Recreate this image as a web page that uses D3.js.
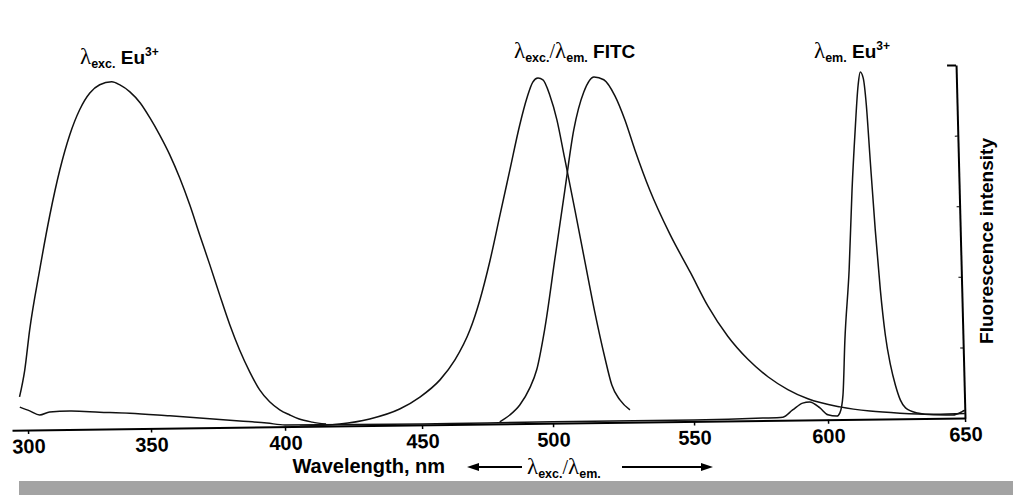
<!DOCTYPE html>
<html>
<head>
<meta charset="utf-8">
<script src="https://cdn.jsdelivr.net/npm/d3@7"></script>
<style>
  body { margin: 0; background: #fff; }
  svg { display: block; }
</style>
</head>
<body>
<div id="chart"></div>
<script>
const xTicks = [300, 350, 400, 450, 500, 550, 600, 650];
const yTicks = [0, 0.2, 0.4, 0.6, 0.8, 1];
const xTitle = 'Wavelength, nm';
const yTitle = 'Fluorescence intensity';

// [wavelength nm, relative intensity]
const euExcitation = [
  [296.9, 0.094], [299.3, 0.170], [301.7, 0.283], [306.4, 0.453], [311.1, 0.608],
  [315.6, 0.735], [320.0, 0.834], [324.3, 0.905], [328.6, 0.952], [332.7, 0.975],
  [337.6, 0.983], [340.9, 0.974], [344.9, 0.954], [349.0, 0.922], [352.5, 0.880],
  [356.0, 0.831], [359.6, 0.774], [363.1, 0.708], [366.6, 0.631], [370.0, 0.546],
  [373.5, 0.461], [376.9, 0.375], [380.4, 0.290], [383.8, 0.219], [387.4, 0.156],
  [390.9, 0.105], [394.5, 0.071], [398.2, 0.048], [401.9, 0.033], [405.0, 0.022],
  [410.0, 0.012], [415.0, 0.006]
];

const fitcExcitation = [
  [405.4, 0.001], [420.0, 0.006], [431.0, 0.019], [442.0, 0.046], [449.5, 0.079],
  [457.3, 0.127], [463.2, 0.183], [469.2, 0.267], [473.3, 0.352], [477.4, 0.459],
  [481.8, 0.592], [486.0, 0.719], [490.2, 0.846], [493.2, 0.922], [495.6, 0.967],
  [497.6, 0.978], [499.5, 0.973], [501.8, 0.930], [504.1, 0.860], [506.5, 0.751],
  [509.7, 0.603], [512.8, 0.455], [515.8, 0.314], [519.0, 0.183], [521.2, 0.106],
  [524.0, 0.063], [527.4, 0.035]
];

const fitcEmission = [
  [479.7, 0.006], [483.6, 0.025], [487.5, 0.053], [491.5, 0.101], [494.3, 0.152],
  [497.7, 0.265], [502.2, 0.468], [506.3, 0.660], [510.0, 0.830], [513.9, 0.937],
  [517.6, 0.979], [521.1, 0.971], [524.9, 0.925], [528.2, 0.857], [531.5, 0.771],
  [536.4, 0.657], [543.1, 0.532], [550.2, 0.420], [556.3, 0.326], [563.4, 0.240],
  [570.7, 0.174], [578.0, 0.124], [585.3, 0.087], [592.7, 0.060], [604.5, 0.036],
  [615.4, 0.023], [626.3, 0.016], [639.1, 0.012], [650.0, 0.013]
];

const euEmission = [
  [296.9, 0.065], [300.9, 0.054], [304.9, 0.042], [309.0, 0.050], [317.2, 0.052],
  [329.3, 0.048], [341.5, 0.044], [357.1, 0.035], [368.3, 0.028], [383.2, 0.018],
  [393.3, 0.011], [400.0, 0.005], [450.0, 0.003], [500.0, 0.004], [550.0, 0.004],
  [575.7, 0.007], [583.2, 0.009], [586.9, 0.029], [590.7, 0.048], [593.3, 0.051],
  [597.1, 0.034], [600.0, 0.014], [603.3, 0.010], [604.4, 0.019], [605.7, 0.070],
  [606.9, 0.225], [609.1, 0.424], [610.9, 0.650], [612.6, 0.820], [614.1, 0.947],
  [615.0, 0.984], [616.0, 0.967], [616.9, 0.890], [617.8, 0.734], [619.0, 0.536],
  [620.3, 0.366], [621.7, 0.238], [623.3, 0.153], [624.9, 0.096], [626.6, 0.053],
  [628.4, 0.031], [632.7, 0.016], [638.5, 0.010], [645.6, 0.009], [649.0, 0.018],
  [650.0, 0.022]
];

const width = 1013, height = 495;
const sans = '"Liberation Sans", Arial, sans-serif';
const serif = '"Liberation Serif", "Times New Roman", serif';

const svg = d3.select('#chart')
  .append('svg')
  .attr('width', width)
  .attr('height', height);

// the scanned axis is a bit uneven, so the scale is piecewise through the ticks
const x = d3.scaleLinear()
  .domain([293.5, ...xTicks])
  .range([12, 28, 151, 285, 422, 553, 694, 828, 965]);

const y = d3.scaleLinear()
  .domain([0, 1])
  .range([418, 65]);

// scan is slightly skewed, pivot on the bottom right corner
const plot = svg.append('g')
  .attr('transform', 'translate(965,418) matrix(1,-0.0128,0.0254,1,0,0) translate(-965,-418)');

const xAxis = d3.axisBottom(x)
  .tickValues(xTicks)
  .tickSize(4)
  .tickSizeOuter(0)
  .tickPadding(5);

plot.append('g')
  .attr('transform', `translate(0, ${y(0)})`)
  .call(xAxis)
  .attr('font-size', 20)
  .attr('font-family', sans)
  .attr('font-weight', 'bold')
  .call(g => g.select('.domain').attr('stroke-width', 2))
  .call(g => g.selectAll('.tick line').attr('stroke-width', 1.5));

const yAxis = d3.axisLeft(y)
  .tickValues(yTicks)
  .tickSize(3)
  .tickSizeOuter(0)
  .tickFormat('');

plot.append('g')
  .attr('transform', `translate(${x(650)}, 0)`)
  .call(yAxis)
  .call(g => g.select('.domain').attr('stroke-width', 2))
  .call(g => g.selectAll('.tick').filter(d => d === 1).select('line')
    .attr('x2', -9).attr('stroke-width', 2));

const line = d3.line()
  .x(d => x(d[0]))
  .y(d => y(d[1]))
  .curve(d3.curveMonotoneX);

[euExcitation, fitcExcitation, fitcEmission, euEmission].forEach(series => {
  plot.append('path')
    .datum(series)
    .attr('d', line)
    .attr('fill', 'none')
    .attr('stroke', '#111')
    .attr('stroke-width', 1.5)
    .attr('stroke-linejoin', 'round');
});

// rich labels: lambda in serif, sub/superscripts in small bold
const styles = {
  greek: { family: serif, size: 23, weight: 'normal', off: 0 },
  slash: { family: serif, size: 20, weight: 'normal', off: 0 },
  main:  { family: sans, size: 19, weight: 'bold', off: 0 },
  sub:   { family: sans, size: 12.5, weight: 'bold', off: 4 },
  sup:   { family: sans, size: 12, weight: 'bold', off: -8 }
};

function richLabel(px, py, parts) {
  const t = svg.append('text').attr('x', px).attr('y', py).attr('fill', '#000');
  let prev = 0;
  parts.forEach(([kind, str]) => {
    const s = styles[kind];
    t.append('tspan')
      .attr('font-family', s.family)
      .attr('font-size', s.size)
      .attr('font-weight', s.weight)
      .attr('dy', s.off - prev)
      .text(str);
    prev = s.off;
  });
  return t;
}

richLabel(80, 64, [['greek', 'λ'], ['sub', 'exc.'], ['main', ' Eu'], ['sup', '3+']]);
richLabel(514, 58, [['greek', 'λ'], ['sub', 'exc.'], ['slash', '/'], ['greek', 'λ'], ['sub', 'em.'], ['main', ' FITC']]);
richLabel(814, 58, [['greek', 'λ'], ['sub', 'em.'], ['main', ' Eu'], ['sup', '3+']]);

svg.append('text')
  .attr('transform', 'translate(993, 241) rotate(-90)')
  .attr('text-anchor', 'middle')
  .attr('font-family', sans)
  .attr('font-size', 19)
  .attr('font-weight', 'bold')
  .text(yTitle);

svg.append('text')
  .attr('x', 445)
  .attr('y', 473)
  .attr('text-anchor', 'end')
  .attr('font-family', sans)
  .attr('font-size', 20)
  .attr('font-weight', 'bold')
  .text(xTitle);

richLabel(527, 474, [['greek', 'λ'], ['sub', 'exc.'], ['slash', '/'], ['greek', 'λ'], ['sub', 'em.']]);

// double arrow around the lambda label
const arrowY = 467;
svg.append('line').attr('x1', 474).attr('x2', 522).attr('y1', arrowY).attr('y2', arrowY)
  .attr('stroke', '#000').attr('stroke-width', 2);
svg.append('path').attr('d', `M467,${arrowY}L479,${arrowY - 4}L479,${arrowY + 4}Z`).attr('fill', '#000');
svg.append('line').attr('x1', 622).attr('x2', 705).attr('y1', arrowY).attr('y2', arrowY)
  .attr('stroke', '#000').attr('stroke-width', 2);
svg.append('path').attr('d', `M713,${arrowY}L701,${arrowY - 4}L701,${arrowY + 4}Z`).attr('fill', '#000');

svg.append('rect')
  .attr('x', 19)
  .attr('y', 481)
  .attr('width', width - 19)
  .attr('height', height - 481)
  .attr('fill', '#a3a3a3');
</script>
</body>
</html>
